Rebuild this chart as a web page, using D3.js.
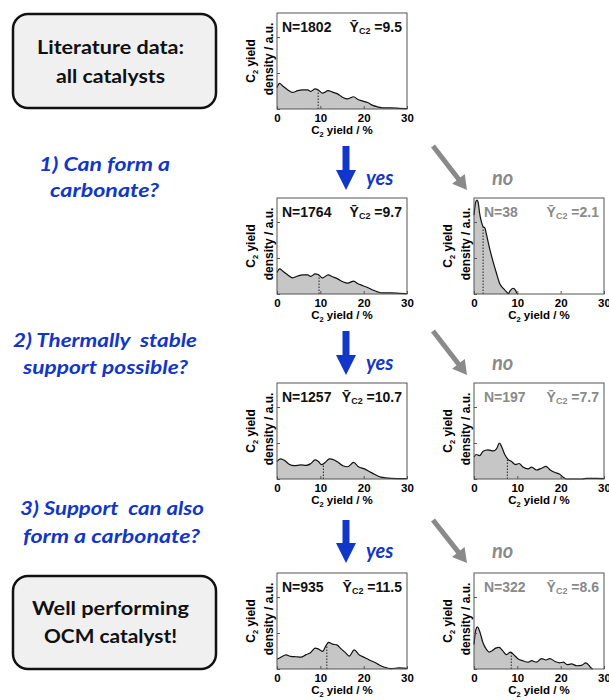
<!DOCTYPE html>
<html>
<head>
<meta charset="utf-8">
<script src="https://cdn.jsdelivr.net/npm/d3@7"></script>
<style>
body { margin: 0; background: #fff; }
svg { display: block; }
</style>
</head>
<body>
<div id="chart"></div>
<script>
// Datos: [rendimiento C2 %, densidad u.a.]
const xTicks = [0, 10, 20, 30]
const yTicks = [0, 1, 2]
const nValues = [1802, 1764, 38, 1257, 197, 935, 322]
const meanValues = [9.5, 9.7, 2.1, 10.7, 7.7, 11.5, 8.6]

const allCatalysts = [[0,0.60],[0.6,0.71],[1.3,0.64],[2.5,0.53],[3.6,0.46],[4.8,0.51],[5.9,0.53],[7.1,0.53],[7.8,0.49],[8.8,0.56],[9.5,0.53],[10.5,0.44],[11.8,0.51],[12.8,0.47],[14,0.42],[15.2,0.32],[16.3,0.28],[17.7,0.34],[18.6,0.27],[19.8,0.22],[20.9,0.18],[22.1,0.10],[23.2,0.06],[24.4,0.03],[26.3,0.03],[28.2,0.02],[30,0.01]]
const carbonateYes = [[0,0.60],[0.6,0.70],[1.3,0.64],[2.5,0.53],[3.6,0.45],[4.8,0.50],[5.9,0.53],[7.1,0.53],[7.8,0.49],[8.8,0.56],[9.5,0.54],[10.5,0.45],[11.8,0.53],[12.8,0.48],[14,0.42],[15.2,0.34],[16.3,0.30],[17.7,0.36],[18.6,0.29],[19.8,0.23],[20.9,0.18],[22.1,0.11],[23.2,0.06],[24.4,0.03],[26.3,0.03],[28.2,0.02],[30,0.01]]
const carbonateNo = [[0,2.19],[0.4,2.56],[0.7,2.61],[1.0,2.52],[1.3,2.24],[1.7,2.01],[2.1,1.87],[2.5,1.84],[2.9,1.64],[3.6,1.27],[4.4,0.90],[5.2,0.57],[5.9,0.30],[6.7,0.16],[7.5,0.06],[7.9,0.01],[8.4,0.10],[9.0,0.16],[9.6,0.10],[9.9,0.02],[10.2,0]]
const stableYes = [[0,0.49],[0.8,0.56],[1.7,0.52],[2.8,0.41],[4.0,0.37],[5.5,0.39],[6.7,0.38],[7.7,0.42],[8.8,0.53],[9.5,0.49],[10.3,0.40],[11.1,0.46],[12.1,0.56],[13.2,0.53],[14,0.47],[15.2,0.37],[16.3,0.34],[17.7,0.46],[18.8,0.34],[20.2,0.28],[21.3,0.21],[22.5,0.13],[24,0.05],[26.3,0.02],[30,0.01]]
const stableNo = [[0,0.61],[0.5,0.68],[1.3,0.65],[2.1,0.77],[3.2,0.81],[4.4,0.78],[5.2,0.84],[5.9,1.00],[6.3,0.92],[7.1,0.68],[7.9,0.54],[8.6,0.49],[9.6,0.40],[10.4,0.43],[11.3,0.33],[12.5,0.28],[13.3,0.33],[14.4,0.25],[15.6,0.30],[16.6,0.35],[17.5,0.26],[18.7,0.18],[19.7,0.14],[20.6,0.05],[21.4,0],[25,0],[26,0.02],[28.2,0.02],[30,0.01]]
const supportYes = [[0,0.27],[0.8,0.32],[2.1,0.39],[3.2,0.35],[4.4,0.34],[5.5,0.33],[6.7,0.40],[7.8,0.46],[8.8,0.58],[9.5,0.56],[10.5,0.49],[11.3,0.65],[11.9,0.74],[12.8,0.69],[13.8,0.67],[14.8,0.56],[15.9,0.44],[16.7,0.36],[17.8,0.53],[19,0.39],[20.2,0.32],[21.3,0.25],[22.5,0.19],[23.6,0.11],[24.8,0.05],[26.3,0.01],[28.2,0.03],[30,0.02]]
const supportNo = [[0,0.68],[0.4,1.08],[0.8,1.17],[1.3,1.05],[2.1,0.72],[2.9,0.54],[3.5,0.47],[4.2,0.51],[5.0,0.58],[5.8,0.60],[6.6,0.51],[7.5,0.40],[8.4,0.47],[9.4,0.37],[10.2,0.28],[11.3,0.23],[12.5,0.19],[13.3,0.23],[14.4,0.19],[15.6,0.29],[16.6,0.25],[17.5,0.29],[18.7,0.21],[19.7,0.17],[20.6,0.19],[21.5,0.12],[22.5,0.14],[23.7,0.09],[24.8,0.10],[25.8,0.17],[26.6,0.09],[27.1,0.02],[27.4,0]]

const curves = [allCatalysts, carbonateYes, carbonateNo, stableYes, stableNo, supportYes, supportNo]

// Textos de la columna izquierda
const startLines = ['Literature data:', 'all catalysts']
const endLines = ['Well performing', 'OCM catalyst!']
const questions = [
    ['1) Can form a', 'carbonate?'],
    ['2) Thermally  stable', 'support possible?'],
    ['3) Support  can also', 'form a carbonate?']
]

// Constantes de dibujo
const width = 609
const height = 700
const panelW = 130
const panelH = 96
const blue = '#1236c8'
const grey = '#8a8a8a'
const fontChart = '"Liberation Sans", Arial, sans-serif'
const fontText = 'Lato, "Open Sans", sans-serif'

const panels = [
    {x: 277, y: 13, grey: false},
    {x: 277, y: 198, grey: false},
    {x: 474, y: 198, grey: true},
    {x: 277, y: 383, grey: false},
    {x: 474, y: 383, grey: true},
    {x: 277, y: 573, grey: false},
    {x: 474, y: 573, grey: true}
]

const svg = d3.select('#chart').append('svg').attr('width', width).attr('height', height)

const x = d3.scaleLinear().domain([0, 30]).range([0, panelW])
const y = d3.scaleLinear().domain([0, 2.667]).range([panelH, 0])

const area = d3.area().x(d => x(d[0])).y0(panelH).y1(d => y(d[1])).curve(d3.curveMonotoneX)
const line = d3.line().x(d => x(d[0])).y(d => y(d[1])).curve(d3.curveMonotoneX)
const bisect = d3.bisector(d => d[0]).left

function valueAt(data, v) {
    const i = Math.max(1, Math.min(data.length - 1, bisect(data, v)))
    const a = data[i - 1], b = data[i]
    const t = (v - a[0]) / (b[0] - a[0])
    return a[1] + t * (b[1] - a[1])
}

panels.forEach((p, i) => {
    const data = curves[i]
    const g = svg.append('g').attr('transform', `translate(${p.x}, ${p.y})`)
        .style('font-family', fontChart)

    g.append('path').datum(data).attr('d', area).attr('fill', '#c6c6c6')
    g.append('path').datum(data).attr('d', line).attr('fill', 'none')
        .attr('stroke', '#111').attr('stroke-width', 1.2)

    const m = meanValues[i]
    g.append('line')
        .attr('x1', x(m)).attr('x2', x(m))
        .attr('y1', panelH).attr('y2', y(valueAt(data, m)))
        .attr('stroke', '#222').attr('stroke-width', 1).attr('stroke-dasharray', '1.5,1.5')

    const xAxis = d3.axisBottom(x).tickValues(xTicks).tickSize(-3).tickPadding(5)
    const xg = g.append('g').attr('transform', `translate(0, ${panelH})`).call(xAxis)
    xg.select('.domain').remove()
    xg.selectAll('text').style('font-size', '11.5px').style('font-weight', 'bold')
        .style('font-family', fontChart).attr('fill', '#000')
    xg.selectAll('line').attr('stroke', '#555')

    const yAxis = d3.axisLeft(y).tickValues(yTicks).tickSize(-3).tickFormat('')
    const yg = g.append('g').call(yAxis)
    yg.select('.domain').remove()
    yg.selectAll('line').attr('stroke', '#555')

    g.append('rect').attr('width', panelW).attr('height', panelH)
        .attr('fill', 'none').attr('stroke', '#555').attr('stroke-width', 1)

    // titulos de ejes
    const xt = g.append('text').attr('x', panelW / 2).attr('y', panelH + 25)
        .attr('text-anchor', 'middle').style('font-size', '11.5px').style('font-weight', 'bold')
    xt.append('tspan').text('C')
    xt.append('tspan').text('2').style('font-size', '7.5px').attr('dy', 3)
    xt.append('tspan').text(' yield / %').attr('dy', -3)

    const yt1 = g.append('text').attr('transform', `translate(-22, ${panelH / 2}) rotate(-90)`)
        .attr('text-anchor', 'middle').style('font-size', '12px').style('font-weight', 'bold')
    yt1.append('tspan').text('C')
    yt1.append('tspan').text('2').style('font-size', '7.5px').attr('dy', 3)
    yt1.append('tspan').text(' yield').attr('dy', -3)

    g.append('text').attr('transform', `translate(-4, ${panelH / 2 - 2}) rotate(-90)`)
        .attr('text-anchor', 'middle').style('font-size', '12px').style('font-weight', 'bold')
        .text('density / a.u.')

    // anotaciones
    const col = p.grey ? grey : '#111'
    g.append('text').attr('x', p.grey ? 10 : 5).attr('y', 19)
        .attr('fill', col).style('font-size', '14px').style('font-weight', 'bold')
        .text('N=' + nValues[i])
    const mt = g.append('text').attr('x', panelW - 5).attr('y', 19).attr('text-anchor', 'end')
        .attr('fill', col).style('font-size', '14px').style('font-weight', 'bold')
    mt.append('tspan').text('\u0232')
    mt.append('tspan').text('C2').style('font-size', '9px').attr('dy', 2)
    mt.append('tspan').text(' =' + m).attr('dy', -2)
})

// flechas
const arrowRows = [{y0: 146, y1: 190}, {y0: 331, y1: 375}, {y0: 520, y1: 563}]
arrowRows.forEach(r => {
    const cx = 346
    svg.append('rect').attr('x', cx - 3.5).attr('y', r.y0).attr('width', 7).attr('height', r.y1 - r.y0 - 18)
        .attr('fill', blue)
    svg.append('path').attr('d', `M${cx - 10},${r.y1 - 20} L${cx + 10},${r.y1 - 20} L${cx},${r.y1} Z`)
        .attr('fill', blue)
    svg.append('text').attr('x', 366).attr('y', r.y1 - 5)
        .attr('fill', blue).style('font-family', fontText).style('font-size', '20px')
        .style('font-weight', 'bold').style('font-style', 'italic').text('yes')

    const ax = 433, ay = r.y0, bx = 467, by = r.y1
    const len = Math.hypot(bx - ax, by - ay)
    const ux = (bx - ax) / len, uy = (by - ay) / len
    const hx = bx - 14 * ux, hy = by - 14 * uy
    svg.append('line').attr('x1', ax).attr('y1', ay).attr('x2', hx + 2 * ux).attr('y2', hy + 2 * uy)
        .attr('stroke', grey).attr('stroke-width', 5)
    svg.append('path')
        .attr('d', `M${hx - 8 * uy},${hy + 8 * ux} L${hx + 8 * uy},${hy - 8 * ux} L${bx},${by} Z`)
        .attr('fill', grey)
    svg.append('text').attr('x', 492).attr('y', r.y1 - 5)
        .attr('fill', grey).style('font-family', fontText).style('font-size', '20px')
        .style('font-weight', 'bold').style('font-style', 'italic').text('no')
})

// cajas
function box(yTop, h, lines, baselines, lengths) {
    svg.append('rect').attr('x', 13).attr('y', yTop).attr('width', 203).attr('height', h)
        .attr('rx', 15).attr('fill', '#f0f0f0').attr('stroke', '#111').attr('stroke-width', 2.5)
    lines.forEach((t, k) => {
        svg.append('text').attr('x', 110.5).attr('y', baselines[k]).attr('text-anchor', 'middle')
            .attr('textLength', lengths[k]).attr('lengthAdjust', 'spacingAndGlyphs')
            .style('font-family', fontText).style('font-size', '18.5px').style('font-weight', 'bold')
            .attr('fill', '#111').text(t)
    })
}
box(14, 94, startLines, [54, 83], [147, 109])
box(576, 93, endLines, [615, 643], [157, 133])

// preguntas
const qLayout = [
    {cx: [104.5, 104.5], base: [171, 197], len: [131, 109]},
    {cx: [105, 105.5], base: [347, 374], len: [184, 165]},
    {cx: [112, 111.5], base: [515, 543], len: [184, 177]}
]
questions.forEach((q, i) => {
    q.forEach((t, k) => {
        svg.append('text').attr('x', qLayout[i].cx[k]).attr('y', qLayout[i].base[k])
            .attr('text-anchor', 'middle')
            .attr('textLength', qLayout[i].len[k]).attr('lengthAdjust', 'spacingAndGlyphs')
            .style('font-family', fontText).style('font-size', '19.5px')
            .style('font-weight', 'bold').style('font-style', 'italic')
            .style('white-space', 'pre')
            .attr('fill', blue).text(t)
    })
})
</script>
</body>
</html>
